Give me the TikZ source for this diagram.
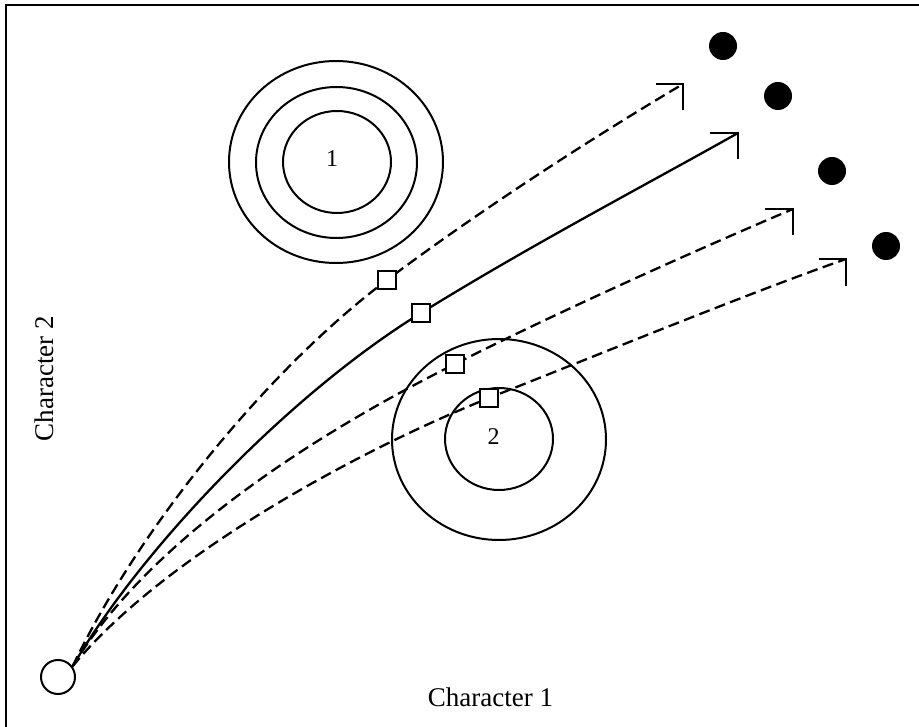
\documentclass[tikz,border=0pt]{standalone}
\usepackage{fontspec}
\setmainfont{Liberation Serif}
\begin{document}
\begin{tikzpicture}[x=1pt,y=-1pt,
  dcurve/.style={line width=2.3pt, dash pattern=on 11pt off 5.5pt},
  scurve/.style={line width=2.3pt},
  ring/.style={line width=2pt},
  sq/.style={draw, line width=2.3pt, fill=white, minimum size=18pt, inner sep=0pt},
  dot/.style={circle, fill=black, minimum size=28pt, inner sep=0pt},
  lbl/.style={font=\fontsize{27}{30}\selectfont, inner sep=0pt},
  num/.style={font=\fontsize{24}{26}\selectfont, inner sep=0pt},
  head/.style={line width=2.3pt, line join=miter}]
\useasboundingbox (0,0) rectangle (919,727);
% frame
\draw[line width=2pt] (6,727) -- (6,5) -- (919,5);
% region 1
\draw[ring] (336,162) ellipse [x radius=107, y radius=101];
\draw[ring] (336.5,162.5) ellipse [x radius=80.5, y radius=75.5];
\draw[ring] (337,162) ellipse [x radius=54, y radius=51];
\node[num] (n1) at (332,158.5) {1};
% region 2
\draw[ring] (499,439.5) ellipse [x radius=107, y radius=100.5];
\draw[ring] (499,439) ellipse [x radius=54, y radius=51];
\node[num] (n2) at (493.5,437) {2};
% start
\node[circle, draw, line width=2pt, minimum size=34pt, inner sep=0pt] (start) at (58,677) {};
\coordinate (s0) at (start.36);
% targets
\coordinate (tip1) at (683,84);
\coordinate (tip2) at (738,133);
\coordinate (tip3) at (793,209);
\coordinate (tip4) at (846,259);
\coordinate (q1) at (387,280);
\coordinate (q2) at (421,313);
\coordinate (q3) at (455,364);
\coordinate (q4) at (489,398);
% curves
\draw[dcurve] (s0) .. controls (140,525) and (272,366) .. (q1)
                   .. controls (483,208) and (597,135) .. (tip1);
\draw[scurve] (s0) .. controls (143,546) and (291,393) .. (q2)
                   .. controls (531,245) and (642,187) .. (tip2);
\draw[dcurve] (s0) .. controls (155,530) and (339,422) .. (q3)
                   .. controls (562,310) and (701,248) .. (tip3);
\draw[dcurve] (s0) .. controls (163,556) and (359,450) .. (q4)
                   .. controls (610,350) and (752,292) .. (tip4);
% arrow heads
\draw[head] (tip1) ++(-27,0) -- (tip1) -- ++(0,26);
\draw[head] (tip2) ++(-28,0) -- (tip2) -- ++(0,26);
\draw[head] (tip3) ++(-28,0) -- (tip3) -- ++(0,26);
\draw[head] (tip4) ++(-27,0) -- (tip4) -- ++(0,27);
% squares
\node[sq] (sq1) at (q1) {};
\node[sq] (sq2) at (q2) {};
\node[sq] (sq3) at (q3) {};
\node[sq] (sq4) at (q4) {};
% dots
\node[dot] (d1) at (723,46) {};
\node[dot] (d2) at (778,96) {};
\node[dot] (d3) at (832,171) {};
\node[dot] (d4) at (886,246) {};
% labels
\node[lbl] (c1) at (490.5,697) {Character 1};
\node[lbl, rotate=90] (c2) at (44.5,378.5) {Character 2};
\end{tikzpicture}
\end{document}
